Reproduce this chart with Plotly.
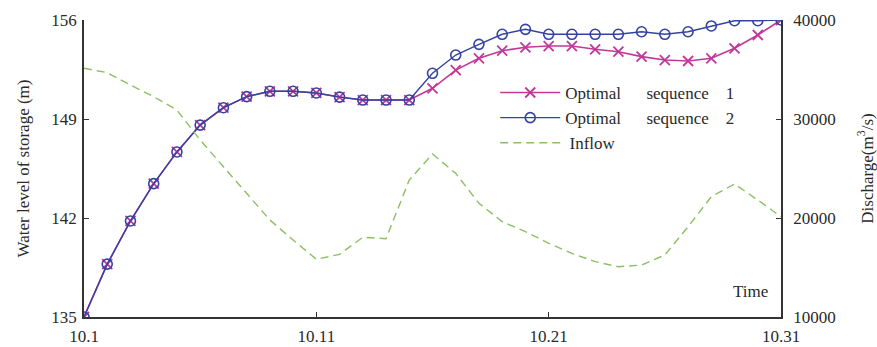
import plotly.graph_objects as go

days = list(range(1, 32))
date_labels = [f"10.{d}" for d in days]

seq1 = [135.0, 138.74, 141.79, 144.43, 146.67, 148.57, 149.80, 150.58, 150.96, 150.96,
        150.84, 150.55, 150.34, 150.34, 150.34, 151.17, 152.46, 153.29, 153.83, 154.07,
        154.16, 154.16, 153.93, 153.76, 153.41, 153.17, 153.10, 153.29, 154.00, 154.94,
        156.0]
seq2 = [135.0, 138.74, 141.79, 144.43, 146.67, 148.57, 149.80, 150.58, 150.96, 150.96,
        150.84, 150.55, 150.34, 150.34, 150.34, 152.23, 153.52, 154.28, 154.99, 155.34,
        154.99, 154.99, 154.99, 154.99, 155.17, 154.99, 155.17, 155.58, 155.95, 155.95,
        156.0]
inflow = [35120, 34680, 33430, 32250, 30900, 27880, 25180, 22490, 19800, 17780,
          15830, 16330, 18050, 17910, 23840, 26460, 24510, 21480, 19630, 18620,
          17440, 16430, 15590, 15080, 15250, 16260, 19120, 22150, 23430, 21820,
          20130]

left_ticks = [135, 142, 149, 156]
right_ticks = [10000, 20000, 30000, 40000]
right_tick_labels = ["10000", "20000", "30000", "40000"]
x_ticks = [1, 11, 21, 31]

FONT = "'Liberation Serif', 'Times New Roman', Times, serif"
C1 = "#c2389a"
C2 = "#3442a0"
CG = "#8cc063"
TXT = "#2a2a2a"
NB = "\u00a0"

fig = go.Figure()
fig.add_trace(go.Scatter(
    x=days, y=seq1, mode="lines+markers",
    name=f"Optimal{NB*6}sequence{NB*4}1",
    line=dict(color=C1, width=1.6),
    marker=dict(symbol="x-thin-open", size=10, color=C1, line=dict(color=C1, width=1.8)),
))
fig.add_trace(go.Scatter(
    x=days, y=seq2, mode="lines+markers",
    name=f"Optimal{NB*6}sequence{NB*4}2",
    line=dict(color=C2, width=1.4),
    marker=dict(symbol="circle-open", size=10, color=C2, line=dict(color="#3d4ab0", width=1.6)),
))
fig.add_trace(go.Scatter(
    x=days, y=inflow, mode="lines", yaxis="y2",
    name=f"{NB}Inflow",
    line=dict(color=CG, width=1.4, dash="8px,5px"),
))

axis_common = dict(
    showline=True, linecolor="#333333", linewidth=1.5,
    ticks="inside", ticklen=5, tickcolor="#333333", tickwidth=1.2,
    showgrid=False, zeroline=False, automargin=False,
    tickfont=dict(family=FONT, size=17, color=TXT),
)

fig.update_layout(
    width=877, height=347,
    margin=dict(l=84, r=96, t=20, b=30),
    paper_bgcolor="white", plot_bgcolor="white",
    font=dict(family=FONT, size=17, color=TXT),
    xaxis=dict(range=[1, 31], tickvals=x_ticks,
               ticktext=[date_labels[d - 1] for d in x_ticks],
               ticklabelstandoff=3, **axis_common),
    yaxis=dict(range=[135, 156], tickvals=left_ticks,
               title=dict(text="Water level of storage (m)", font=dict(family=FONT, size=17, color=TXT), standoff=17),
               ticklabelstandoff=2, **axis_common),
    yaxis2=dict(range=[10000, 40000], tickvals=right_ticks, ticktext=right_tick_labels,
                overlaying="y", side="right",
                title=dict(text="Discharge(m<sup>3</sup>/s)", font=dict(family=FONT, size=17, color=TXT), standoff=26),
                ticklabelstandoff=7, **axis_common),
    legend=dict(x=0.59, y=0.815, xanchor="left", yanchor="top",
                bgcolor="rgba(0,0,0,0)", font=dict(family=FONT, size=17, color=TXT),
                tracegroupgap=0, itemwidth=60),
    showlegend=True,
    annotations=[dict(text="Time", x=0.984, y=0.085, xref="paper", yref="paper",
                      xanchor="right", yanchor="middle", showarrow=False,
                      font=dict(family=FONT, size=17, color=TXT))],
)

fig.write_html("out.html")
